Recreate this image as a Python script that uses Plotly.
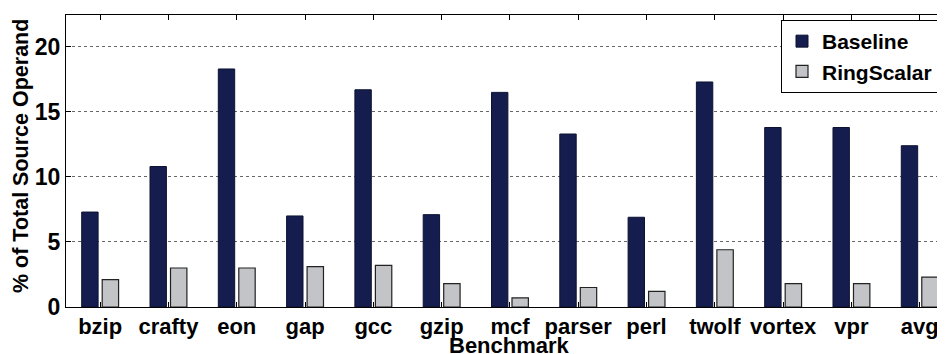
import plotly.graph_objects as go

categories = ["bzip", "crafty", "eon", "gap", "gcc", "gzip", "mcf", "parser",
              "perl", "twolf", "vortex", "vpr", "avg"]
baseline = [7.3, 10.8, 18.3, 7.0, 16.7, 7.1, 16.5, 13.3, 6.9, 17.3, 13.8, 13.8, 12.4]
ringscalar = [2.1, 3.0, 3.0, 3.1, 3.2, 1.8, 0.7, 1.5, 1.2, 4.4, 1.8, 1.8, 2.3]
y_ticks = [0, 5, 10, 15, 20]

FONT = "Liberation Sans, Arial, sans-serif"
xs = list(range(len(categories)))

# page has an 8px body margin; compensate so the plot lands where the reference has it
OFF = 8
W, H = 945 - OFF, 354 - OFF
ML, MT, MB = 66 - OFF, 15 - OFF, 47
PW, PH = W - ML, H - MT - MB


def px_x(p):  # page pixel -> paper x
    return (p - OFF - ML) / PW


def px_y(p):  # page pixel -> paper y
    return (H - MB - (p - OFF)) / PH


fig = go.Figure()
fig.add_trace(go.Bar(
    x=xs, y=baseline, name="Baseline",
    width=0.24, offset=-0.27,
    marker=dict(color="#141d4e", line=dict(color="#0c1230", width=1)),
))
fig.add_trace(go.Bar(
    x=xs, y=ringscalar, name="RingScalar",
    width=0.24, offset=0.03,
    marker=dict(color="#c3c4c8", line=dict(color="#222222", width=1.2)),
))

fig.update_layout(
    width=W, height=H,
    margin=dict(l=ML, r=0, t=MT, b=MB, autoexpand=False),
    paper_bgcolor="white", plot_bgcolor="white",
    barmode="overlay",
    font=dict(family=FONT, color="black"),
    showlegend=True,
    legend=dict(
        x=px_x(781), y=px_y(20), xanchor="left", yanchor="top",
        bordercolor="black", borderwidth=1, bgcolor="white",
        font=dict(family=FONT, size=21, weight="bold", color="black"),
        tracegroupgap=0, itemwidth=30,
    ),
    annotations=[
        dict(text="Benchmark", xref="paper", yref="paper",
             x=px_x(510), y=px_y(345), xanchor="center", yanchor="middle",
             showarrow=False, borderpad=0,
             font=dict(family=FONT, size=22, weight="bold", color="black")),
        dict(text="% of Total Source Operand", xref="paper", yref="paper",
             x=px_x(21), y=px_y(156), xanchor="center", yanchor="middle",
             textangle=-90, showarrow=False, borderpad=0,
             font=dict(family=FONT, size=21.5, weight="bold", color="black")),
    ],
)
fig.update_xaxes(
    range=[-0.5, 12.37], automargin=False,
    tickmode="array", tickvals=xs, ticktext=categories,
    tickfont=dict(family=FONT, size=22, weight="bold", color="black"),
    ticks="inside", ticklen=5, tickcolor="black",
    showline=True, linecolor="black", linewidth=1, mirror="ticks",
    showgrid=False, zeroline=False,
)
fig.update_yaxes(
    range=[0, 22.45], automargin=False,
    tickmode="array", tickvals=y_ticks,
    tickfont=dict(family=FONT, size=23, weight="bold", color="black"),
    ticks="inside", ticklen=5, tickcolor="black",
    showline=True, linecolor="black", linewidth=1, mirror=True,
    showgrid=True, gridcolor="#666666", griddash="dot", gridwidth=1,
    zeroline=False,
)

fig.write_html("out.html")
